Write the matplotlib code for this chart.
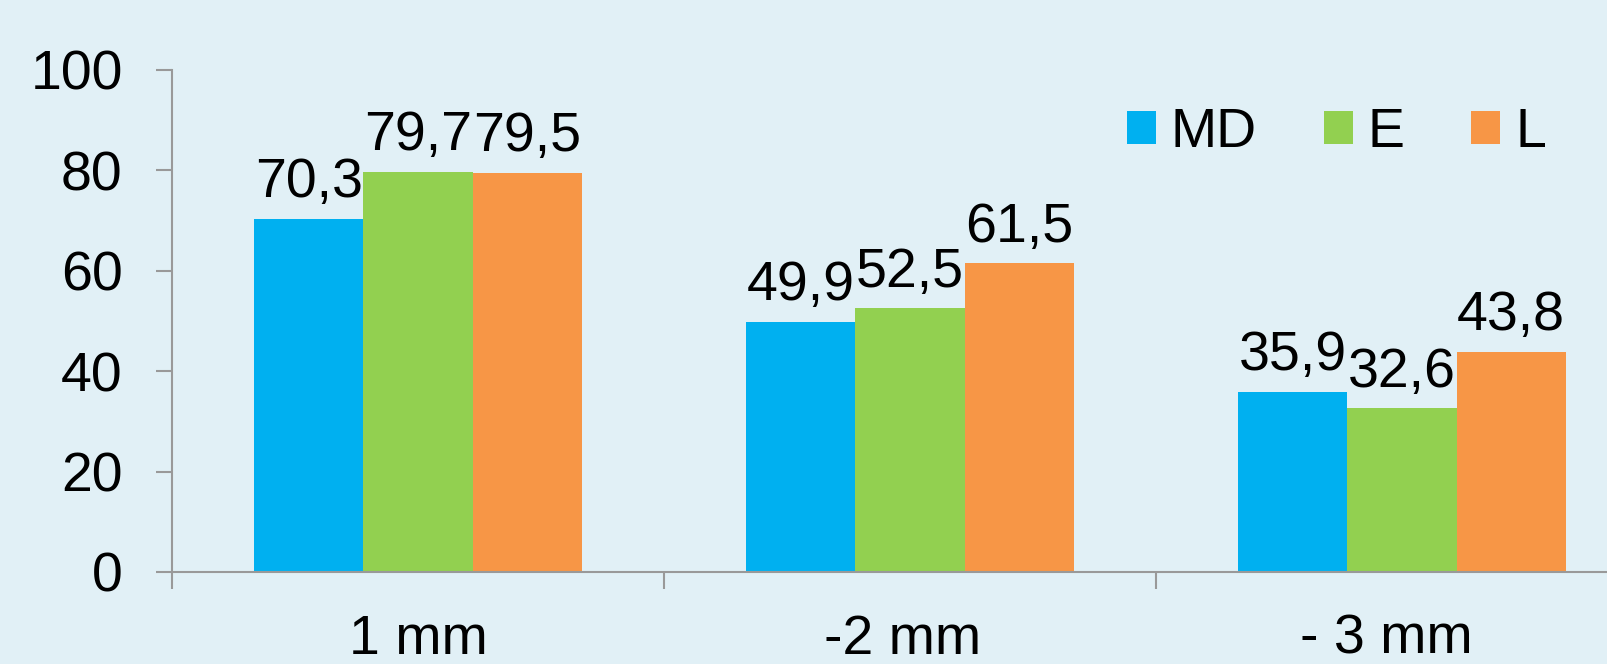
import matplotlib
matplotlib.use("Agg")
import matplotlib.pyplot as plt
import numpy as np

# data
# (trailing spaces nudge the labels left, as they sit in the reference)
categories = ["1 mm", "-2 mm ", "- 3 mm  "]
series_names = ["MD", "E", "L"]
md_values = [70.3, 49.9, 35.9]
e_values = [79.7, 52.5, 32.6]
l_values = [79.5, 61.5, 43.8]
y_ticks = [0, 20, 40, 60, 80, 100]

colors = ["#00B0F0", "#92D050", "#F79646"]
bg = "#E1F0F6"
axis_col = "#999999"

plt.rcParams['font.family'] = ['Liberation Sans', 'DejaVu Sans']

W, H = 1607, 664
fig = plt.figure(figsize=(W / 100, H / 100), dpi=100, facecolor=bg)
# the plot area runs past the right edge of the picture, as in the reference
ax = fig.add_axes([172 / W, (H - 572) / H, 1476 / W, (572 - 70) / H])
ax.set_facecolor(bg)

x = np.arange(len(categories))
width = 0.222
fs = 40

for i, (name, vals) in enumerate(zip(series_names, [md_values, e_values, l_values])):
    pos = x + (i - 1) * width
    bars = ax.bar(pos, vals, width, color=colors[i], label=name, edgecolor="none")
    for b, v in zip(bars, vals):
        ax.annotate(f"{v:.1f}".replace(".", ","),
                    (b.get_x() + b.get_width() / 2, v),
                    xytext=(0, 7), textcoords="offset points",
                    ha="center", va="bottom", fontsize=fs)

ax.set_xlim(-0.5, 2.5)
ax.set_ylim(0, 100)
ax.set_yticks(y_ticks)
ax.tick_params(axis="y", labelsize=fs, length=11.5, width=1.5, color=axis_col, pad=24)

# group boundaries as major ticks, category names on minor ticks
ax.set_xticks([-0.5, 0.5, 1.5, 2.5])
ax.set_xticklabels([])
ax.set_xticks(x, minor=True)
ax.set_xticklabels(categories, minor=True)
ax.tick_params(axis="x", which="major", length=12, width=1.5, color=axis_col)
ax.tick_params(axis="x", which="minor", length=0, labelsize=fs, pad=30)

for s in ["top", "right"]:
    ax.spines[s].set_visible(False)
for s in ["left", "bottom"]:
    ax.spines[s].set_color(axis_col)
    ax.spines[s].set_linewidth(1.5)

ax.legend(loc="center left", bbox_to_anchor=(1127 / W, 1 - 133 / H),
          bbox_transform=fig.transFigure, ncol=3, frameon=False,
          fontsize=fs, handlelength=0.52, handleheight=0.52,
          handletextpad=0.27, columnspacing=1.2, borderpad=0, borderaxespad=0)

fig.savefig("out.png", dpi=100, facecolor=bg)
